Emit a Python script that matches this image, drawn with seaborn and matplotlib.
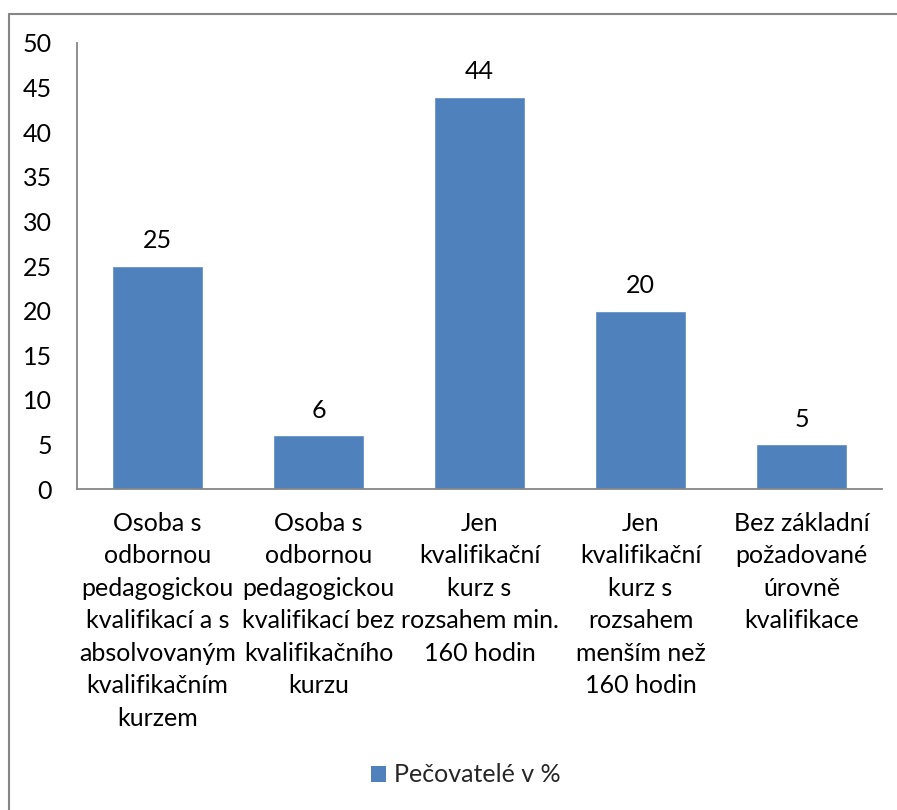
import matplotlib.pyplot as plt
import matplotlib.lines as mlines
import matplotlib.patches as mpatches
import seaborn as sns
import pandas as pd

# Data
categories = [
    "Osoba s\nodbornou\npedagogickou\nkvalifikací a s\nabsolvovaným\nkvalifikačním\nkurzem",
    "Osoba s\nodbornou\npedagogickou\nkvalifikací bez\nkvalifikačního\nkurzu",
    "Jen\nkvalifikační\nkurz s\nrozsahem min.\n160 hodin",
    "Jen\nkvalifikační\nkurz s\nrozsahem\nmenším než\n160 hodin",
    "Bez základní\npožadované\núrovně\nkvalifikace",
]
values = [25, 6, 44, 20, 5]
series_name = "Pečovatelé v %"
y_ticks = [0, 5, 10, 15, 20, 25, 30, 35, 40, 45, 50]

bar_color = "#4F81BD"
axis_color = "#868686"

sns.set_theme(style="white")
plt.rcParams['font.family'] = ['Lato', 'DejaVu Sans']
fs = 18

df = pd.DataFrame({"category": categories, "value": values})

fig = plt.figure(figsize=(8.97, 8.10), dpi=100)
ax = fig.add_axes([77 / 897, 1 - 489 / 810, (882 - 77) / 897, (489 - 43) / 810])

sns.barplot(data=df, x="category", y="value", color=bar_color, saturation=1,
            width=0.57, ax=ax)

ax.set_ylim(0, 50)
ax.set_yticks(y_ticks)
ax.set_xlim(-0.5, len(categories) - 0.5)
ax.set_xlabel("")
ax.set_ylabel("")

for s in ["top", "right"]:
    ax.spines[s].set_visible(False)
for s in ["left", "bottom"]:
    ax.spines[s].set_color(axis_color)
    ax.spines[s].set_linewidth(1.3)

ax.tick_params(axis="y", length=0, pad=18, labelsize=fs, labelcolor="black")
ax.tick_params(axis="x", length=0, pad=16.5, labelsize=fs, labelcolor="black")
for lbl in ax.get_xticklabels():
    lbl.set_linespacing(1.5)
    lbl.set_ha("center")
    lbl.set_multialignment("center")

# value labels above bars
for i, v in enumerate(values):
    ax.annotate(str(v), (i, v), xytext=(0, 18), textcoords="offset points",
                ha="center", va="center", fontsize=fs, color="black")

# legend at bottom
handle = mpatches.Patch(facecolor=bar_color, edgecolor="none", label=series_name)
fig.legend(handles=[handle], loc="center", bbox_to_anchor=(466 / 897, 1 - 775 / 810),
           frameon=False, fontsize=fs, handlelength=0.6, handleheight=0.6,
           handletextpad=0.3)

# chart area border (top and left visible)
fig.add_artist(mlines.Line2D([8.5 / 897, 1], [1 - 13.5 / 810, 1 - 13.5 / 810],
                             transform=fig.transFigure, color=axis_color, lw=1.5))
fig.add_artist(mlines.Line2D([8.5 / 897, 8.5 / 897], [0, 1 - 13.5 / 810],
                             transform=fig.transFigure, color=axis_color, lw=1.5))

fig.savefig("out.png", dpi=100)
